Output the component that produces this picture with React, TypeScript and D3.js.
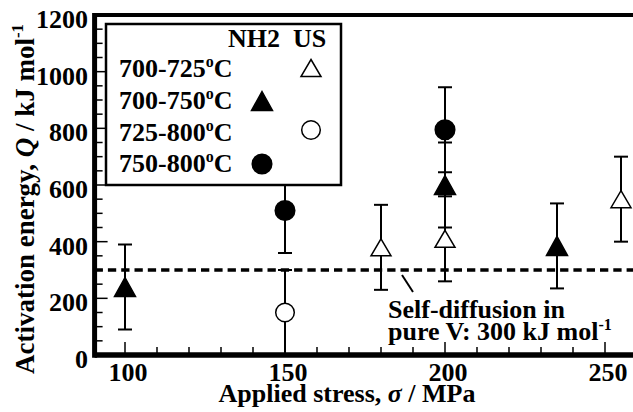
import React from 'react';
import * as d3 from 'd3';

// Activation energy Q (kJ/mol) against applied stress (MPa); every value carries ±150 kJ/mol
const stress700725 = [180, 200, 255];
const q700725 = [380, 410, 550];
const stress700750 = [100, 200, 235];
const q700750 = [240, 600, 385];
const stress725800 = [150];
const q725800 = [150];
const stress750800 = [150, 200];
const q750800 = [510, 795];
const qError = 150;
const selfDiffusionQ = 300;

const xMajorTicks = [100, 150, 200, 250];
const yMajorTicks = [0, 200, 400, 600, 800, 1000, 1200];

const seriesLabels = ['700-725', '700-750', '725-800', '750-800'];

type Shape = 'triangle' | 'circle';
interface Series {
  label: string;
  xs: number[];
  ys: number[];
  shape: Shape;
  filled: boolean;
  column: 'NH2' | 'US';
}

const series: Series[] = [
  { label: seriesLabels[0], xs: stress700725, ys: q700725, shape: 'triangle', filled: false, column: 'US' },
  { label: seriesLabels[1], xs: stress700750, ys: q700750, shape: 'triangle', filled: true, column: 'NH2' },
  { label: seriesLabels[2], xs: stress725800, ys: q725800, shape: 'circle', filled: false, column: 'US' },
  { label: seriesLabels[3], xs: stress750800, ys: q750800, shape: 'circle', filled: true, column: 'NH2' },
];

const W = 633;
const H = 412;
const FONT = "'Liberation Serif', 'Times New Roman', serif";

const x = d3.scaleLinear().domain([100, 250]).range([125, 605]);
const y = d3.scaleLinear().domain([0, 1200]).range([355, 15]);
const xMin = 90.5;
const xMax = 260;

function Marker({ cx, cy, shape, filled }: { cx: number; cy: number; shape: Shape; filled: boolean }) {
  const fill = filled ? '#000' : '#fff';
  if (shape === 'circle') {
    return <circle cx={cx} cy={cy} r={filled ? 9.8 : 9.3} fill={fill} stroke="#000" strokeWidth={1.5} />;
  }
  const w = filled ? 10.5 : 10;
  const h = filled ? 9.5 : 8.5;
  const d = `M${cx},${cy - h}L${cx + w},${cy + h}L${cx - w},${cy + h}Z`;
  return <path d={d} fill={fill} stroke="#000" strokeWidth={1.5} strokeLinejoin="miter" />;
}

function Superscript({ text, up = 10, size = 16 }: { text: string; up?: number; size?: number }) {
  return (
    <tspan dy={-up} fontSize={size}>
      {text}
    </tspan>
  );
}

export default function App() {
  const left = x(xMin);
  const right = x(xMax);
  const bottom = y(0);
  const top = y(1200);

  const xMinor = d3.range(100, 261, 10).filter((v) => !xMajorTicks.includes(v));
  const yMinor = d3.range(50, 1200, 50).filter((v) => !yMajorTicks.includes(v));

  const capHalf = 7;

  // legend geometry
  const lg = { x: 106, y: 24, w: 235, h: 161 };
  const colX = { NH2: 262, US: 311 };
  const rowBase = [77, 109, 141, 172];
  const rowMarkerY = [68, 101, 130, 164];

  return (
    <svg
      width={W}
      height={H}
      style={{ position: 'absolute', left: 0, top: 0, background: '#fff' }}
      fontFamily={FONT}
      fontWeight="bold"
    >
      <rect x={0} y={0} width={W} height={H} fill="#fff" />

      {/* reference level: self-diffusion in pure V */}
      <line
        x1={left}
        x2={right}
        y1={y(selfDiffusionQ)}
        y2={y(selfDiffusionQ)}
        stroke="#000"
        strokeWidth={3.3}
        strokeDasharray="8.3,5"
      />

      {/* error bars */}
      {series.map((s) =>
        s.xs.map((xv, i) => {
          const cx = x(xv);
          const yHi = y(Math.min(1200, s.ys[i] + qError));
          const yLo = y(Math.max(0, s.ys[i] - qError));
          return (
            <g key={`${s.label}-${i}-err`} stroke="#000" strokeWidth={2}>
              <line x1={cx} x2={cx} y1={yHi} y2={yLo} />
              <line x1={cx - capHalf} x2={cx + capHalf} y1={yHi} y2={yHi} />
              <line x1={cx - capHalf} x2={cx + capHalf} y1={yLo} y2={yLo} />
            </g>
          );
        })
      )}

      {/* markers */}
      {series.map((s) =>
        s.xs.map((xv, i) => (
          <Marker key={`${s.label}-${i}`} cx={x(xv)} cy={y(s.ys[i])} shape={s.shape} filled={s.filled} />
        ))
      )}

      {/* ticks */}
      <g stroke="#000" strokeWidth={1.5}>
        {xMinor.map((v) => (
          <line key={`xm${v}`} x1={x(v)} x2={x(v)} y1={bottom} y2={bottom - 8} />
        ))}
        {xMajorTicks.map((v) => (
          <line key={`xM${v}`} x1={x(v)} x2={x(v)} y1={bottom} y2={bottom - 13} />
        ))}
        {yMinor.map((v) => (
          <line key={`ym${v}`} x1={left} x2={left + 8} y1={y(v)} y2={y(v)} />
        ))}
        {yMajorTicks.map((v) => (
          <line key={`yM${v}`} x1={left} x2={left + 13} y1={y(v)} y2={y(v)} />
        ))}
      </g>

      {/* frame */}
      <line x1={left} x2={right} y1={top} y2={top} stroke="#000" strokeWidth={4} />
      <line x1={right} x2={right} y1={top} y2={bottom} stroke="#000" strokeWidth={4} />
      <line x1={left} x2={right} y1={bottom} y2={bottom} stroke="#000" strokeWidth={5.5} />
      <line x1={left} x2={left} y1={top - 2} y2={bottom + 2.75} stroke="#000" strokeWidth={5} />

      {/* tick labels */}
      <g fontSize={26} fill="#000">
        {xMajorTicks.map((v) => (
          <text key={`xl${v}`} x={x(v) + 3} y={381} textAnchor="middle">
            {v}
          </text>
        ))}
        {yMajorTicks.map((v) => (
          <text key={`yl${v}`} x={88} y={y(v) + 13} textAnchor="end">
            {v}
          </text>
        ))}
      </g>

      {/* axis titles */}
      <text x={347} y={402} fontSize={26} textAnchor="middle">
        Applied stress, <tspan fontStyle="italic">σ</tspan> / MPa
      </text>
      <text transform="translate(34,199) rotate(-90)" fontSize={27} textAnchor="middle">
        Activation energy, <tspan fontStyle="italic">Q</tspan> / kJ mol
        <Superscript text="-1" up={11} size={17} />
      </text>

      {/* annotation */}
      <line x1={402} y1={275} x2={413} y2={292} stroke="#000" strokeWidth={2} />
      <text x={388} y={318} fontSize={26}>
        Self-diffusion in
      </text>
      <text x={388} y={340} fontSize={26}>
        pure V: {selfDiffusionQ} kJ mol
        <Superscript text="-1" />
      </text>

      {/* legend */}
      <rect x={lg.x} y={lg.y} width={lg.w} height={lg.h} fill="#fff" stroke="#000" strokeWidth={2.5} />
      <text x={228} y={47} fontSize={26}>
        NH2
      </text>
      <text x={293} y={47} fontSize={26}>
        US
      </text>
      {series.map((s, i) => (
        <g key={`lg${s.label}`}>
          <text x={119} y={rowBase[i]} fontSize={26}>
            {s.label}
            <tspan dy={-10} fontSize={16}>o</tspan>
            <tspan dy={10}>C</tspan>
          </text>
          <Marker cx={colX[s.column]} cy={rowMarkerY[i]} shape={s.shape} filled={s.filled} />
        </g>
      ))}
    </svg>
  );
}
